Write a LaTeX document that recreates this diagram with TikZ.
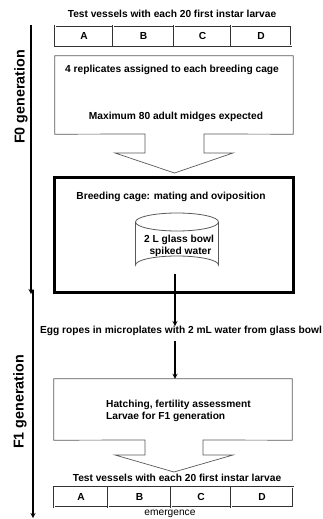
\documentclass[tikz,border=0pt]{standalone}
\usepackage{fontspec}
\setmainfont{Liberation Sans}
\usepackage{tikz}

\begin{document}
\begin{tikzpicture}[x=1pt, y=-1pt]
        % Define styles
        \tikzset{
            txt/.style={font=\bfseries\fontsize{10.2}{12.2}\selectfont, inner sep=0pt},
            gen/.style={font=\bfseries\fontsize{14.3}{16}\selectfont, inner sep=0pt, rotate=90},
            cell/.style={rectangle, draw=black!80, line width=0.7pt, double=white, double distance=1pt, minimum height=20pt, inner sep=0pt, font=\bfseries\fontsize{10.2}{12.2}\selectfont},
            outline/.style={draw=black!65, line width=0.7pt},
            arrow/.style={->,>=stealth, line width=1.2pt}
        }
        \useasboundingbox (0,0) rectangle (322,519);

        % Generations
        \coordinate (f0_top) at (31,25);
        \coordinate (f0_end) at (31,294);
        \coordinate (f1_top) at (33,290);
        \coordinate (f1_end) at (33,518);
        \node[gen] (f0_label) at (21,97) {F0 generation};
        \node[gen] (f1_label) at (20,402) {F1 generation};
        \draw[arrow] (f0_top) -- (f0_end);
        \draw[arrow] (f1_top) -- (f1_end);

        % Top test vessels
        \node[txt] (title_top) at (172,14) {Test vessels with each 20 first instar larvae};
        \node[cell, minimum width=58pt] (top_a) at (84,36) {A};
        \node[cell, minimum width=61pt] (top_b) at (143.5,36) {B};
        \node[cell, minimum width=57pt] (top_c) at (202.5,36) {C};
        \node[cell, minimum width=60pt] (top_d) at (261,36) {D};

        % Replicates box
        \node[rectangle, minimum width=238pt, minimum height=78pt] (box_f0) at (174,95) {};
        \node[txt] (replicates) at (172,70) {4 replicates assigned to each breeding cage};
        \node[txt] (maximum) at (176,117) {Maximum 80 adult midges expected};
        \draw[outline] (box_f0.south west) -- (box_f0.north west) -- (box_f0.north east) -- (box_f0.south east)
            -- (204,134) -- (204,153) -- (233,153) -- (174.5,173) -- (115,153) -- (145,153) -- (145,134) -- cycle;

        % Breeding cage
        \node[rectangle, draw, line width=2.2pt, minimum width=239pt, minimum height=115pt] (cage) at (174,235) {};
        \node[txt] (cage_text) at (171,197) {Breeding cage: mating and oviposition};
        \draw[outline, line width=0.8pt] (177,222) ellipse [x radius=41.5, y radius=9];
        \draw[outline, line width=0.8pt] (135.5,222) -- (135.5,265) arc[start angle=180, end angle=360, x radius=41.5, y radius=9] -- (218.5,222);
        \node[txt, align=center] (bowl) at (179,246) {2 L glass bowl\\ \ spiked water};
        \coordinate (bowl_bottom) at (175,274);

        % Egg ropes
        \node[txt] (eggs) at (181,331) {Egg ropes in microplates with 2 mL water from glass bowl};
        \draw[arrow] (bowl_bottom) -- (bowl_bottom |- eggs.north);

        % Hatching box
        \node[rectangle, minimum width=238pt, minimum height=61pt] (box_f1) at (173,409.5) {};
        \node[txt, align=left, anchor=west] (hatching) at (106,411) {Hatching, fertility assessment\\Larvae for F1 generation};
        \draw[outline] (box_f1.south west) -- (box_f1.north west) -- (box_f1.north east) -- (box_f1.south east)
            -- (203,440) -- (203,455) -- (233,455) -- (174,472) -- (115,455) -- (145,455) -- (145,440) -- cycle;
        \draw[arrow] (eggs.south -| bowl_bottom) ++(0,5) -- (bowl_bottom |- box_f1.north);

        % Bottom test vessels
        \node[txt] (title_bottom) at (177,478) {Test vessels with each 20 first instar larvae};
        \node[cell, minimum width=54pt] (bot_a) at (81,497) {A};
        \node[cell, minimum width=63pt] (bot_b) at (139.5,497) {B};
        \node[cell, minimum width=60pt] (bot_c) at (201,497) {C};
        \node[cell, minimum width=62pt] (bot_d) at (262,497) {D};
        \node[txt, font=\fontsize{10.2}{12.2}\selectfont] (emergence) at (170,514) {emergence};
    \end{tikzpicture}
\end{document}
